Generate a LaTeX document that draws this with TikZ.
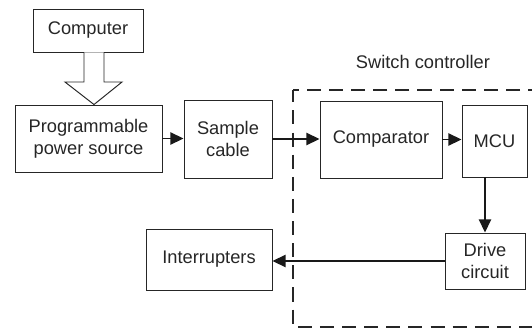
\documentclass[tikz,border=0pt]{standalone}
\usepackage{fontspec}
\setmainfont{Liberation Sans}
\usetikzlibrary{arrows.meta}
\begin{document}
\begin{tikzpicture}[x=0.02cm,y=-0.02cm,
    blk/.style={draw=black!85,line width=0.55pt,align=center,inner sep=1pt,
      font=\fontsize{10.4}{12.6}\selectfont,text=black!85},
    sig/.style={line width=0.8pt,draw=black!90,-{Triangle[length=7.5pt,width=7pt]}}]
    \clip (0,0) rectangle (532,329);
    \node[blk,minimum width=2.2cm,minimum height=0.86cm] (computer) at (88,30.5) {Computer};
    \node[blk,minimum width=2.94cm,minimum height=1.34cm] (source) at (88.5,138.5) {Programmable\\power source};
    \node[blk,minimum width=1.76cm,minimum height=1.56cm] (cable) at (228,139) {Sample\\cable};
    \node[blk,minimum width=2.44cm,minimum height=1.54cm] (comparator) at (381,139.5) {Comparator};
    \node[blk,minimum width=1.3cm,minimum height=1.44cm] (mcu) at (494.5,141) {MCU};
    \node[blk,minimum width=1.6cm,minimum height=1.12cm] (drive) at (485,261) {Drive\\circuit};
    \node[blk,minimum width=2.52cm,minimum height=1.22cm] (interrupters) at (209,259.5) {Interrupters};
    \node[font=\fontsize{10.4}{12.6}\selectfont,text=black!85] (ctrllabel) at (423,62) {Switch controller};
    \draw[black!85,line width=1.1pt,dash pattern=on 8pt off 4.6pt,dash phase=1pt] (293,90) rectangle (545,327);
    \draw[black!85,line width=0.55pt,fill=white]
      (84,0 |- computer.south) -- (84,82) -- (65,82) -- (94,0 |- source.north)
      -- (122,82) -- (104,82) -- (104,0 |- computer.south);
    \draw[sig] (source.east) -- (cable.west |- source.east);
    \draw[sig] (cable.east) -- (comparator.west |- cable.east);
    \draw[sig] (comparator.east) -- (mcu.west |- comparator.east);
    \draw[sig] (drive.north |- mcu.south) -- (drive.north);
    \draw[sig] (drive.west) -- (drive.west -| interrupters.east);
\end{tikzpicture}
\end{document}
